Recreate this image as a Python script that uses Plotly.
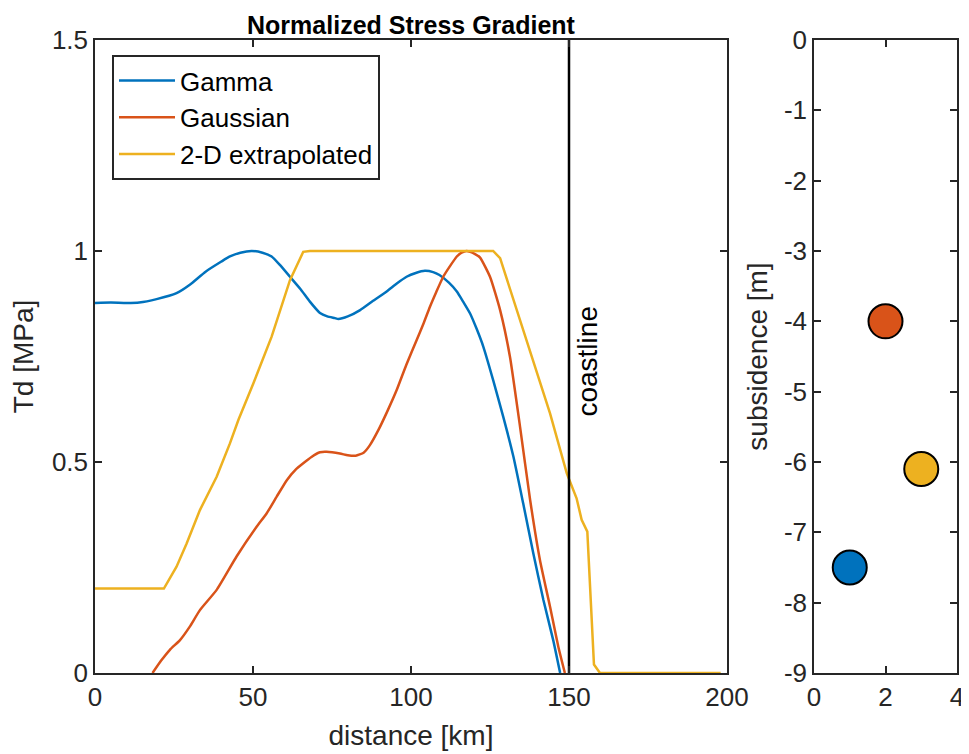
import plotly.graph_objects as go

# ---------------- data ----------------
gamma_x = [0, 5, 10, 14, 19.5, 25.8, 30, 35, 40, 42.7, 46, 49.6, 53, 55.9, 58.5, 61.7, 65, 68,
           71.2, 73.5, 75.9, 77, 80, 83.9, 88, 92.3, 95.5, 98.6, 101.5, 104.4, 107, 109, 112,
           114.5, 116.5, 118.7, 120.8, 122.9, 126, 129.2, 132.4, 135.5, 138.7, 141.9, 145, 147.2]
gamma_y = [0.877, 0.878, 0.877, 0.878, 0.886, 0.900, 0.920, 0.951, 0.975, 0.987, 0.996, 1.000,
           0.996, 0.987, 0.967, 0.939, 0.910, 0.880, 0.853, 0.845, 0.841, 0.839, 0.845, 0.860,
           0.882, 0.904, 0.923, 0.939, 0.948, 0.953, 0.950, 0.943, 0.925, 0.904, 0.880, 0.852,
           0.815, 0.773, 0.694, 0.607, 0.513, 0.402, 0.284, 0.173, 0.078, 0.0]

gauss_x = [18.2, 21, 23.7, 26.9, 30, 33.2, 38.5, 44.8, 51.2, 54.3, 57.5, 60.7, 63.5, 65.9, 68.5,
           71.2, 73.3, 77.5, 80, 82.5, 85, 87, 89.7, 92.5, 95.5, 98.5, 101.8, 104, 106, 108,
           110.2, 112.5, 114.5, 116, 117.6, 118.7, 120, 121.8, 125, 128.2, 131.3, 134.5, 137.7,
           140.8, 144, 146.6, 148.7]
gauss_y = [0.0, 0.03, 0.055, 0.078, 0.11, 0.149, 0.197, 0.276, 0.347, 0.378, 0.418, 0.457, 0.482,
           0.497, 0.512, 0.523, 0.524, 0.520, 0.516, 0.515, 0.522, 0.540, 0.576, 0.620, 0.671,
           0.730, 0.789, 0.829, 0.868, 0.903, 0.939, 0.966, 0.987, 0.996, 1.0, 0.998, 0.994,
           0.985, 0.939, 0.860, 0.750, 0.584, 0.410, 0.268, 0.157, 0.063, 0.0]

extrap_x = [0, 10, 21.8, 25.8, 29, 33.2, 38.5, 42.7, 45.4, 50.1, 55.9, 61.7, 65.9, 68, 80, 100,
            120, 126, 128.2, 132.4, 137.7, 144, 149.3, 152.4, 154, 155.8, 157.9, 159.8, 170,
            180, 190, 198]
extrap_y = [0.2, 0.2, 0.2, 0.252, 0.307, 0.386, 0.465, 0.544, 0.6, 0.686, 0.797, 0.931, 0.998,
            1.0, 1.0, 1.0, 1.0, 1.0, 0.983, 0.884, 0.758, 0.615, 0.473, 0.414, 0.363, 0.335,
            0.02, 0.0, 0.0, 0.0, 0.0, 0.0]

coastline_km = 150
series_names = ["Gamma", "Gaussian", "2-D extrapolated"]
subs_x = [1, 2, 3]
subs_y = [-7.5, -4.0, -6.1]

left_yticks = [0, 0.5, 1, 1.5]
left_yticklabels = ["0", "0.5", "1", "1.5"]
left_xticks = [0, 50, 100, 150, 200]
right_xticks = [0, 2, 4]
right_yticks = [0, -1, -2, -3, -4, -5, -6, -7, -8, -9]
right_yticklabels = ["0", "-1", "-2", "-3", "-4", "-5", "-6", "-7", "-8", "-9"]

# ---------------- style ----------------
colors = ["#0072BD", "#D95319", "#EDB120"]
FONT = "Liberation Sans, Arial, Helvetica, sans-serif"
AX = "#262626"
OFF = 8                      # page body margin
W, H = 969 - OFF, 754 - OFF  # figure size
TICK = 26
LAB = 28


def px_x(X):
    return (X - OFF) / W


def px_y(Y):
    return (H - (Y - OFF)) / H


fig = go.Figure()
fig.add_trace(go.Scatter(x=gamma_x, y=gamma_y, mode="lines", name=series_names[0],
                         line=dict(color=colors[0], width=2.5, shape="spline", smoothing=0.5),
                         xaxis="x", yaxis="y"))
fig.add_trace(go.Scatter(x=gauss_x, y=gauss_y, mode="lines", name=series_names[1],
                         line=dict(color=colors[1], width=2.5, shape="spline", smoothing=0.5),
                         xaxis="x", yaxis="y"))
fig.add_trace(go.Scatter(x=extrap_x, y=extrap_y, mode="lines", name=series_names[2],
                         line=dict(color=colors[2], width=2.5),
                         xaxis="x", yaxis="y"))
fig.add_trace(go.Scatter(x=[coastline_km, coastline_km], y=[0, 1.5], mode="lines",
                         line=dict(color="black", width=2.5), showlegend=False,
                         xaxis="x", yaxis="y"))
fig.add_trace(go.Scatter(x=subs_x, y=subs_y, mode="markers", showlegend=False,
                         marker=dict(color=colors, size=34, line=dict(color="black", width=2)),
                         xaxis="x2", yaxis="y2"))

fig.add_annotation(x=coastline_km, y=0.738, xref="x", yref="y", text="coastline",
                   textangle=-90, showarrow=False, xshift=19,
                   font=dict(family=FONT, size=LAB, color="black"))

axis_common = dict(showline=True, linewidth=1.5, linecolor=AX, mirror="ticks",
                   ticks="inside", ticklen=7, tickwidth=1.5, tickcolor=AX,
                   showgrid=False, zeroline=False, automargin=False,
                   tickfont=dict(family=FONT, size=TICK, color=AX))

fig.update_layout(
    width=W, height=H,
    margin=dict(l=0, r=0, t=0, b=0, autoexpand=False),
    paper_bgcolor="white", plot_bgcolor="white",
    font=dict(family=FONT, color=AX),
    title=dict(text="<b>Normalized Stress Gradient</b>", x=px_x(411), y=px_y(25),
               xanchor="center", yanchor="middle",
               font=dict(family=FONT, size=25, color="black")),
    xaxis=dict(domain=[px_x(95), px_x(727)], range=[0, 200], tickvals=left_xticks,
               title=dict(text="distance [km]", font=dict(family=FONT, size=LAB, color=AX),
                          standoff=14),
               anchor="y", **axis_common),
    yaxis=dict(domain=[px_y(673), px_y(40)], range=[0, 1.5],
               tickvals=left_yticks, ticktext=left_yticklabels,
               title=dict(text="Td [MPa]", font=dict(family=FONT, size=LAB, color=AX),
                          standoff=10),
               anchor="x", **axis_common),
    xaxis2=dict(domain=[px_x(814), px_x(957)], range=[0, 4], tickvals=right_xticks,
                anchor="y2", **axis_common),
    yaxis2=dict(domain=[px_y(673), px_y(40)], range=[-9, 0],
                tickvals=right_yticks, ticktext=right_yticklabels,
                title=dict(text="subsidence [m]", font=dict(family=FONT, size=LAB, color=AX),
                           standoff=8),
                anchor="x2", **axis_common),
    legend=dict(x=px_x(112), y=px_y(55), xanchor="left", yanchor="top",
                bgcolor="white", bordercolor=AX, borderwidth=2, itemwidth=56,
                font=dict(family=FONT, size=26, color="black")),
)

fig.write_html("out.html")
